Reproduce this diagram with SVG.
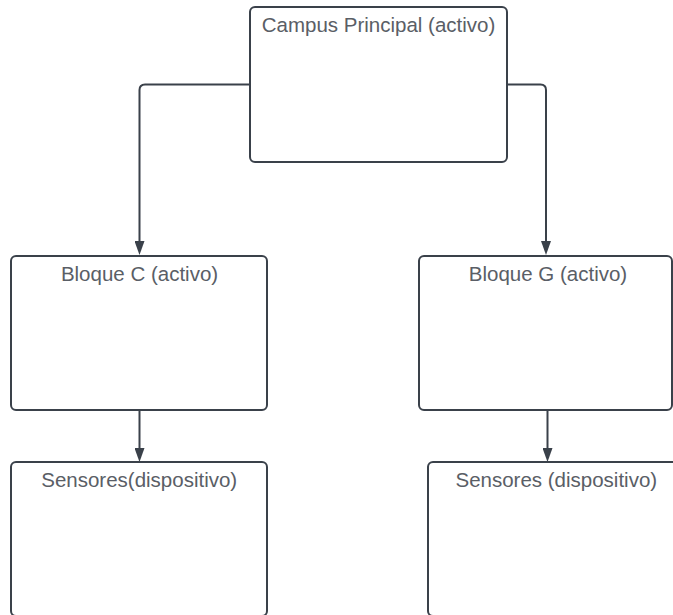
<svg xmlns="http://www.w3.org/2000/svg" width="673" height="615" viewBox="0 0 673 615">
  <style>
    .box { fill: #ffffff; stroke: #3a414a; stroke-width: 2; }
    .label { font-family: "Liberation Sans", Arial, sans-serif; font-size: 20.5px; fill: #5a5e66; text-anchor: middle; }
    .edge { fill: none; stroke: #3a414a; stroke-width: 2; marker-end: url(#arrow); }
  </style>
  <defs>
    <marker id="arrow" markerUnits="userSpaceOnUse" viewBox="0 0 14 10" markerWidth="14" markerHeight="10" refX="0" refY="5" orient="auto">
      <path d="M0,0 L14,5 L0,10 z" fill="#3a414a"/>
    </marker>
  </defs>
  <rect width="673" height="615" fill="#ffffff"/>

  <g id="connectors">
    <path class="edge" d="M250,84.5 H145 Q139.5,84.5 139.5,90 V241"/>
    <path class="edge" d="M507,84.5 H540.5 Q546,84.5 546,90 V241"/>
    <path class="edge" d="M139.5,410 V448"/>
    <path class="edge" d="M547.5,410 V448"/>
  </g>

  <g id="campus-principal">
    <rect class="box" x="250" y="7" width="257" height="155" rx="5"/>
    <text class="label" x="378.5" y="32">Campus Principal (activo)</text>
  </g>

  <g id="bloque-c">
    <rect class="box" x="11" y="256" width="256" height="154" rx="5"/>
    <text class="label" x="139.5" y="281">Bloque C (activo)</text>
  </g>

  <g id="bloque-g">
    <rect class="box" x="419" y="256" width="253" height="154" rx="5"/>
    <text class="label" x="548" y="281">Bloque G (activo)</text>
  </g>

  <g id="sensores-c">
    <rect class="box" x="11" y="462" width="256" height="154" rx="5"/>
    <text class="label" x="139.2" y="487">Sensores(dispositivo)</text>
  </g>

  <g id="sensores-g">
    <rect class="box" x="428" y="462" width="257" height="154" rx="5"/>
    <text class="label" x="556.3" y="487">Sensores (dispositivo)</text>
  </g>
</svg>
